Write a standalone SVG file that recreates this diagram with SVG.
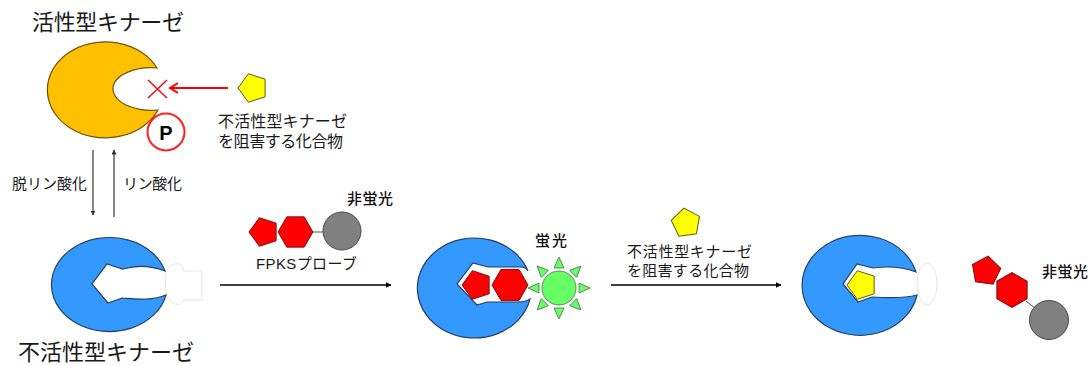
<svg xmlns="http://www.w3.org/2000/svg" xmlns:xlink="http://www.w3.org/1999/xlink" width="1089" height="366" viewBox="0 0 1089 366">
  <style>
    .jp { font-family: "Liberation Sans", "Noto Sans CJK JP", sans-serif; fill: #1a1a1a; }
    .title { font-size: 22px; }
    .label { font-size: 15px; }
    .small { font-size: 15px; font-weight: 500; fill: #111111; }
    .blue { fill: #3399ff; stroke: #2a3f5f; stroke-width: 1.2; }
    .orange { fill: #ffc000; stroke: #6b5410; stroke-width: 1.2; }
    .red { fill: #ff0000; stroke: #7a1010; stroke-width: 1; }
    .yellow { fill: #ffff00; stroke: #5a5a20; stroke-width: 1; }
    .gray { fill: #808080; stroke: #4a4a4a; stroke-width: 1; }
    .green { fill: #66ff66; stroke: #4d6b4d; stroke-width: 0.8; }
    .ghost { fill: #ffffff; stroke: #e6e6e6; stroke-width: 1; }
    .conn { stroke: #000000; stroke-width: 1.6; fill: none; }
    .thin { stroke: #333333; stroke-width: 1.2; fill: none; }
  </style>
  <defs>
    <polygon id="penta" points="-15,0 -4.64,-14.27 12.14,-8.82 12.14,8.82 -4.64,14.27"/>
    <polygon id="hexa" points="-18,0 -9,-15.6 9,-15.6 18,0 9,15.6 -9,15.6"/>
    <polygon id="ray" points="0,-31 -5,-20 5,-20"/>
    <marker id="head" viewBox="0 0 10 10" refX="9" refY="5" markerWidth="6" markerHeight="6" orient="auto" markerUnits="userSpaceOnUse">
      <path d="M0,0 L10,5 L0,10 Z" fill="#000"/>
    </marker>
    <marker id="headSmall" viewBox="0 0 10 10" refX="9" refY="5" markerWidth="5" markerHeight="5" orient="auto" markerUnits="userSpaceOnUse">
      <path d="M0,0 L10,5 L0,10 Z" fill="#333"/>
    </marker>
    <marker id="headRed" viewBox="0 0 12 12" refX="10" refY="6" markerWidth="12" markerHeight="12" orient="auto" markerUnits="userSpaceOnUse">
      <path d="M2,1 L10,6 L2,11" fill="none" stroke="#ff0000" stroke-width="2"/>
    </marker>
  </defs>

  <rect width="1089" height="366" fill="#ffffff"/>

  <!-- active kinase (phosphorylated) -->
  <g id="active-kinase">
    <text class="jp title" x="32" y="30" textLength="152">活性型キナーゼ</text>
    <path class="orange" d="M157,68 A58,48 0 1 0 158,110 C140,112 114,105 113,89 C113,74 138,66 157,68 Z"/>
    <path d="M148,80 L167,98 M167,80 L148,98" stroke="#ff0000" stroke-width="1.4"/>
    <circle cx="166" cy="132" r="18.5" fill="#ffffff" stroke="#ff2020" stroke-width="2"/>
    <text x="166" y="139.5" text-anchor="middle" style="font-family:'Liberation Sans',sans-serif;font-size:20px;font-weight:bold;fill:#000">P</text>
  </g>

  <!-- inhibitor compound of inactive kinase (top) -->
  <g id="inhibitor-top">
    <use xlink:href="#penta" class="yellow" transform="translate(253,88)"/>
    <text class="jp" x="218" y="127" font-size="16" textLength="129">不活性型キナーゼ</text>
    <text class="jp" x="218" y="146.5" font-size="16" textLength="125">を阻害する化合物</text>
  </g>

  <!-- inactive kinase (left) -->
  <g id="inactive-kinase">
    <path class="ghost" d="M165,272 C169,266 174,263 177,264 C180,263 183,266 184,271 L202,271 L202,300 L184,300 C182,304 179,305 177,304 C174,305 170,302 166,295 Z"/>
    <path class="blue" d="M165,271 A58,47 0 1 0 166,295 C152,301 136,299 122,298 L108,303 L92,284 L107,264 L123,269 C137,265 152,266 165,271 Z"/>
    <text class="jp title" x="18" y="360" textLength="176">不活性型キナーゼ</text>
  </g>

  <!-- FPKS probe -->
  <g id="probe">
    <line x1="312" y1="232" x2="324" y2="232" stroke="#555" stroke-width="1"/>
    <use xlink:href="#penta" class="red" transform="translate(264,232)"/>
    <use xlink:href="#hexa" class="red" transform="translate(295.5,232) scale(0.97)"/>
    <circle class="gray" cx="342" cy="231" r="19"/>
    <text class="jp small" x="347" y="203.5" textLength="46">非蛍光</text>
    <text class="jp label" x="256" y="268.5" textLength="101">FPKSプローブ</text>
  </g>

  <!-- kinase with bound probe (fluorescent) -->
  <g id="kinase-probe">
    <path class="blue" d="M528,271 A57,50 0 1 0 530,299 C526,302 522,302 518,302 L487,302 L477,305 L457,284 L473,263 L488,267 L520,267 C524,267 527,269 528,271 Z"/>
    <use xlink:href="#penta" class="red" transform="translate(477,285)"/>
    <use xlink:href="#hexa" class="red" transform="translate(510,285)"/>
    <g transform="translate(559,288)">
      <use xlink:href="#ray" class="green"/>
      <use xlink:href="#ray" class="green" transform="rotate(45)"/>
      <use xlink:href="#ray" class="green" transform="rotate(90)"/>
      <use xlink:href="#ray" class="green" transform="rotate(135)"/>
      <use xlink:href="#ray" class="green" transform="rotate(180)"/>
      <use xlink:href="#ray" class="green" transform="rotate(225)"/>
      <use xlink:href="#ray" class="green" transform="rotate(270)"/>
      <use xlink:href="#ray" class="green" transform="rotate(315)"/>
      <circle class="green" r="17"/>
    </g>
    <text class="jp small" x="535" y="246" textLength="32">蛍光</text>
  </g>

  <!-- inhibitor compound of inactive kinase (middle) -->
  <g id="inhibitor-mid">
    <use xlink:href="#penta" class="yellow" transform="translate(686,223) rotate(10)"/>
    <text class="jp label" x="627" y="257" textLength="125">不活性型キナーゼ</text>
    <text class="jp label" x="627" y="276" textLength="122">を阻害する化合物</text>
  </g>

  <!-- kinase with bound inhibitor -->
  <g id="kinase-inhibitor">
    <ellipse class="ghost" cx="927" cy="284" rx="10" ry="21"/>
    <path class="blue" d="M916,272 A58,50 0 1 0 917,295 C902,299 886,298 872,297 L858,302 L843,284 L857,264 L873,268 C888,266 903,267 916,272 Z"/>
    <use xlink:href="#penta" class="yellow" transform="translate(862,285)"/>
  </g>

  <!-- released probe (non-fluorescent) -->
  <g id="probe-free">
    <line x1="1026" y1="301" x2="1036" y2="309" stroke="#555" stroke-width="1"/>
    <use xlink:href="#penta" class="red" transform="translate(986,271) rotate(26)"/>
    <use xlink:href="#hexa" class="red" transform="translate(1012,290) rotate(30) scale(0.97)"/>
    <circle class="gray" cx="1049" cy="320" r="19.5"/>
    <text class="jp small" x="1042" y="277" textLength="46">非蛍光</text>
  </g>

  <!-- connectors -->
  <g id="connectors">
    <line x1="228" y1="88" x2="170" y2="88" stroke="#ff0000" stroke-width="2.2" marker-end="url(#headRed)"/>
    <line class="thin" x1="93" y1="150" x2="93" y2="215" marker-end="url(#headSmall)"/>
    <line class="thin" x1="114" y1="217" x2="114" y2="150" marker-end="url(#headSmall)"/>
    <text class="jp label" x="12" y="188.5" textLength="75">脱リン酸化</text>
    <text class="jp label" x="123" y="188.5" textLength="59">リン酸化</text>
    <line class="conn" x1="220" y1="285" x2="391" y2="285" marker-end="url(#head)"/>
    <line class="conn" x1="611" y1="285" x2="781" y2="285" marker-end="url(#head)"/>
  </g>
</svg>
